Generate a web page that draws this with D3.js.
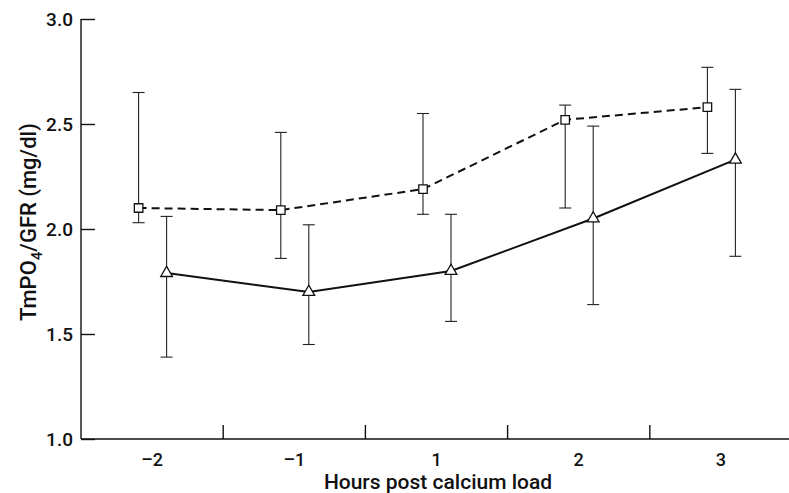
<!DOCTYPE html>
<html>
<head>
<meta charset="utf-8">
<script src="https://cdn.jsdelivr.net/npm/d3@7"></script>
<style>
  body { margin: 0; background: #fff; }
  text { font-family: Roboto, "Liberation Sans", sans-serif; font-weight: 500; fill: #111; }
</style>
</head>
<body>
<svg id="chart" width="789" height="493"></svg>
<script>
// hours post calcium load
const hours = ["\u20132", "\u20131", "1", "2", "3"];
// squares, dashed line
const sqMean = [2.10, 2.09, 2.19, 2.52, 2.58];
const sqHi   = [2.65, 2.46, 2.55, 2.59, 2.77];
const sqLo   = [2.03, 1.86, 2.07, 2.10, 2.36];
// triangles, solid line
const triMean = [1.79, 1.70, 1.80, 2.05, 2.33];
const triHi   = [2.06, 2.02, 2.07, 2.49, 2.665];
const triLo   = [1.39, 1.45, 1.56, 1.64, 1.87];
const yTicks = [1.0, 1.5, 2.0, 2.5, 3.0];

const svg = d3.select("#chart");
const mLeft = 81, mRight = 792, mTop = 19, mBottom = 439;

const x = d3.scaleBand().domain(hours).range([mLeft, mRight]).padding(0);
const y = d3.scaleLinear().domain([1.0, 3.0]).range([mBottom, mTop]);

// y axis, ticks pointing inward
svg.append("g")
  .attr("transform", `translate(${mLeft},0)`)
  .call(d3.axisLeft(y).tickValues(yTicks).tickFormat(d3.format(".1f"))
    .tickSize(-14).tickPadding(8))
  .call(g => g.selectAll("path,line").attr("stroke", "#111").attr("stroke-width", 1.4))
  .call(g => g.select(".domain").attr("d", `M0,${mTop}V${mBottom}`))
  .call(g => g.selectAll("text").attr("font-size", 19).attr("fill", "#111"));

// x axis: labels in band centres, ticks at band boundaries
svg.append("g")
  .attr("transform", `translate(0,${mBottom})`)
  .call(d3.axisBottom(x).tickSize(0).tickPadding(14))
  .call(g => g.select(".domain").attr("d", `M${mLeft},0H789`)
    .attr("stroke", "#111").attr("stroke-width", 1.6))
  .call(g => g.selectAll("text").attr("font-size", 18).attr("fill", "#111"));

svg.append("g").selectAll("line")
  .data(hours.slice(1))
  .join("line")
  .attr("x1", d => x(d)).attr("x2", d => x(d))
  .attr("y1", mBottom).attr("y2", mBottom - 14)
  .attr("stroke", "#111").attr("stroke-width", 1.4);

// axis titles
svg.append("text")
  .attr("x", 438).attr("y", 489)
  .attr("text-anchor", "middle").attr("font-size", 21)
  .text("Hours post calcium load");

const yt = svg.append("text")
  .attr("transform", `translate(36,222) rotate(-90)`)
  .attr("text-anchor", "middle").attr("font-size", 22);
yt.append("tspan").text("TmPO");
yt.append("tspan").attr("font-size", 15).attr("dy", 6).text("4");
yt.append("tspan").attr("dy", -6).text("/GFR (mg/dl)");

function series(mean, hi, lo, dx, dashed, shape) {
  const pts = hours.map((h, i) => ({ h, m: mean[i], hi: hi[i], lo: lo[i], cx: x(h) + x.bandwidth() / 2 + dx }));
  const g = svg.append("g");

  g.selectAll(".bar").data(pts).join("g")
    .each(function(d) {
      const b = d3.select(this);
      b.append("line").attr("x1", d.cx).attr("x2", d.cx)
        .attr("y1", y(d.hi)).attr("y2", y(d.lo));
      b.append("line").attr("x1", d.cx - 6).attr("x2", d.cx + 6)
        .attr("y1", y(d.hi)).attr("y2", y(d.hi));
      b.append("line").attr("x1", d.cx - 6).attr("x2", d.cx + 6)
        .attr("y1", y(d.lo)).attr("y2", y(d.lo));
    })
    .selectAll("line").attr("stroke", "#222").attr("stroke-width", 1.1);

  g.append("path")
    .datum(pts)
    .attr("fill", "none").attr("stroke", "#111").attr("stroke-width", 2)
    .attr("stroke-dasharray", dashed ? "8,5" : null)
    .attr("d", d3.line().x(d => d.cx).y(d => y(d.m)));

  const sym = d3.symbol().type(shape).size(shape === d3.symbolSquare ? 72 : 60);
  g.selectAll(".pt").data(pts).join("path")
    .attr("transform", d => `translate(${d.cx},${y(d.m)})`)
    .attr("d", sym)
    .attr("fill", "#fff").attr("stroke", "#111").attr("stroke-width", 1.3);
}

series(sqMean, sqHi, sqLo, -13.5, true, d3.symbolSquare);
series(triMean, triHi, triLo, 14.5, false, d3.symbolTriangle);
</script>
</body>
</html>
